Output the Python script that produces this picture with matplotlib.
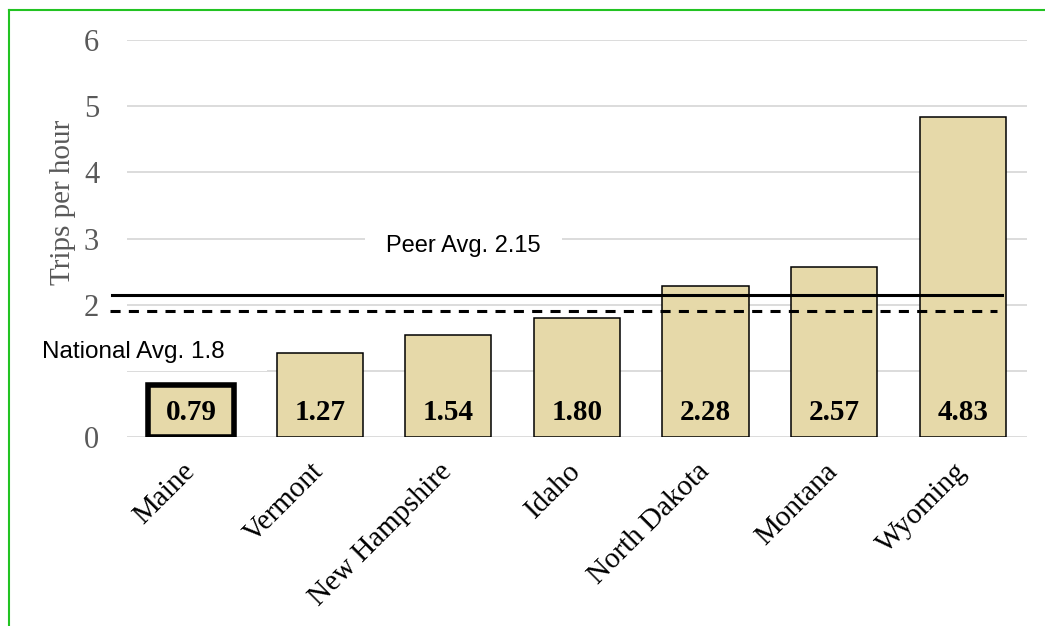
import matplotlib.pyplot as plt
from matplotlib.lines import Line2D

states = ['Maine', 'Vermont', 'New Hampshire', 'Idaho', 'North Dakota', 'Montana', 'Wyoming']
trips = [0.79, 1.27, 1.54, 1.80, 2.28, 2.57, 4.83]
peer_avg = 2.15
national_avg = 1.8
# dashed line is drawn a bit above 1.8 in the source chart
national_line = 1.9
yticks = [0, 2, 3, 4, 5, 6]

bar_color = '#E6D9A9'
grid_color = '#D9D9D9'
tick_gray = '#595959'

fig = plt.figure(figsize=(10.45, 6.26), dpi=100)
ax = fig.add_axes([0.1215, 0.3019, 0.8612, 0.6342])

x = list(range(len(states)))
bars = ax.bar(x, trips, width=0.67, color=bar_color, edgecolor='black', linewidth=1.1, zorder=3)
bars[0].set_linewidth(4)

ax.set_xlim(-0.5, 6.5)
ax.set_ylim(0, 6)

# gridlines (1 and 3 get partly covered by the label boxes)
for g in range(0, 7):
    ax.axhline(g, color=grid_color, lw=1.3, zorder=1)

for s in ax.spines.values():
    s.set_visible(False)

ax.set_yticks(yticks)
ax.set_yticklabels([str(t) for t in yticks], family='Liberation Serif', fontsize=22, color=tick_gray)
ax.tick_params(axis='y', length=0, pad=20)

ax.set_xticks(x)
ax.set_xticklabels(states, family='Liberation Serif', fontsize=21, rotation=45,
                   ha='right', va='center', rotation_mode='anchor')
ax.tick_params(axis='x', length=0, pad=22)

ax.set_ylabel('Trips per hour', family='Liberation Serif', fontsize=21, color=tick_gray)
ax.yaxis.set_label_coords(-0.057, 0.59)

for i, v in enumerate(trips):
    ax.annotate('%.2f' % v, xy=(i, 0), xytext=(0, 18), textcoords='offset points',
                ha='center', va='center', family='Liberation Serif', fontweight='bold',
                fontsize=21, zorder=5)

# average lines
ax.plot([-0.62, 6.31], [peer_avg, peer_avg], color='black', lw=2.2, clip_on=False, zorder=4)
ax.plot([-0.63, 6.27], [national_line, national_line], color='black', lw=2.2,
        dashes=(3.3, 2.7), clip_on=False, zorder=4)

ax.text(2.12, 2.88, 'Peer Avg. ' + str(peer_avg), family='Liberation Sans', fontsize=17,
        ha='center', va='center', zorder=2,
        bbox=dict(facecolor='white', edgecolor='none', boxstyle='square,pad=0.9'))
ax.text(-1.16, 1.29, 'National Avg. ' + str(national_avg) + '     ', family='Liberation Sans',
        fontsize=17.5, ha='left', va='center', zorder=2, clip_on=False,
        bbox=dict(facecolor='white', edgecolor='none', boxstyle='square,pad=0.35'))

# green frame around the figure (left and top edges)
fig.add_artist(Line2D([9 / 1045, 9 / 1045], [0, 1 - 10 / 626], color='#22C322', lw=1.5, zorder=10))
fig.add_artist(Line2D([9 / 1045, 1], [1 - 10 / 626, 1 - 10 / 626], color='#22C322', lw=1.5, zorder=10))

fig.savefig('out.png', dpi=100)
